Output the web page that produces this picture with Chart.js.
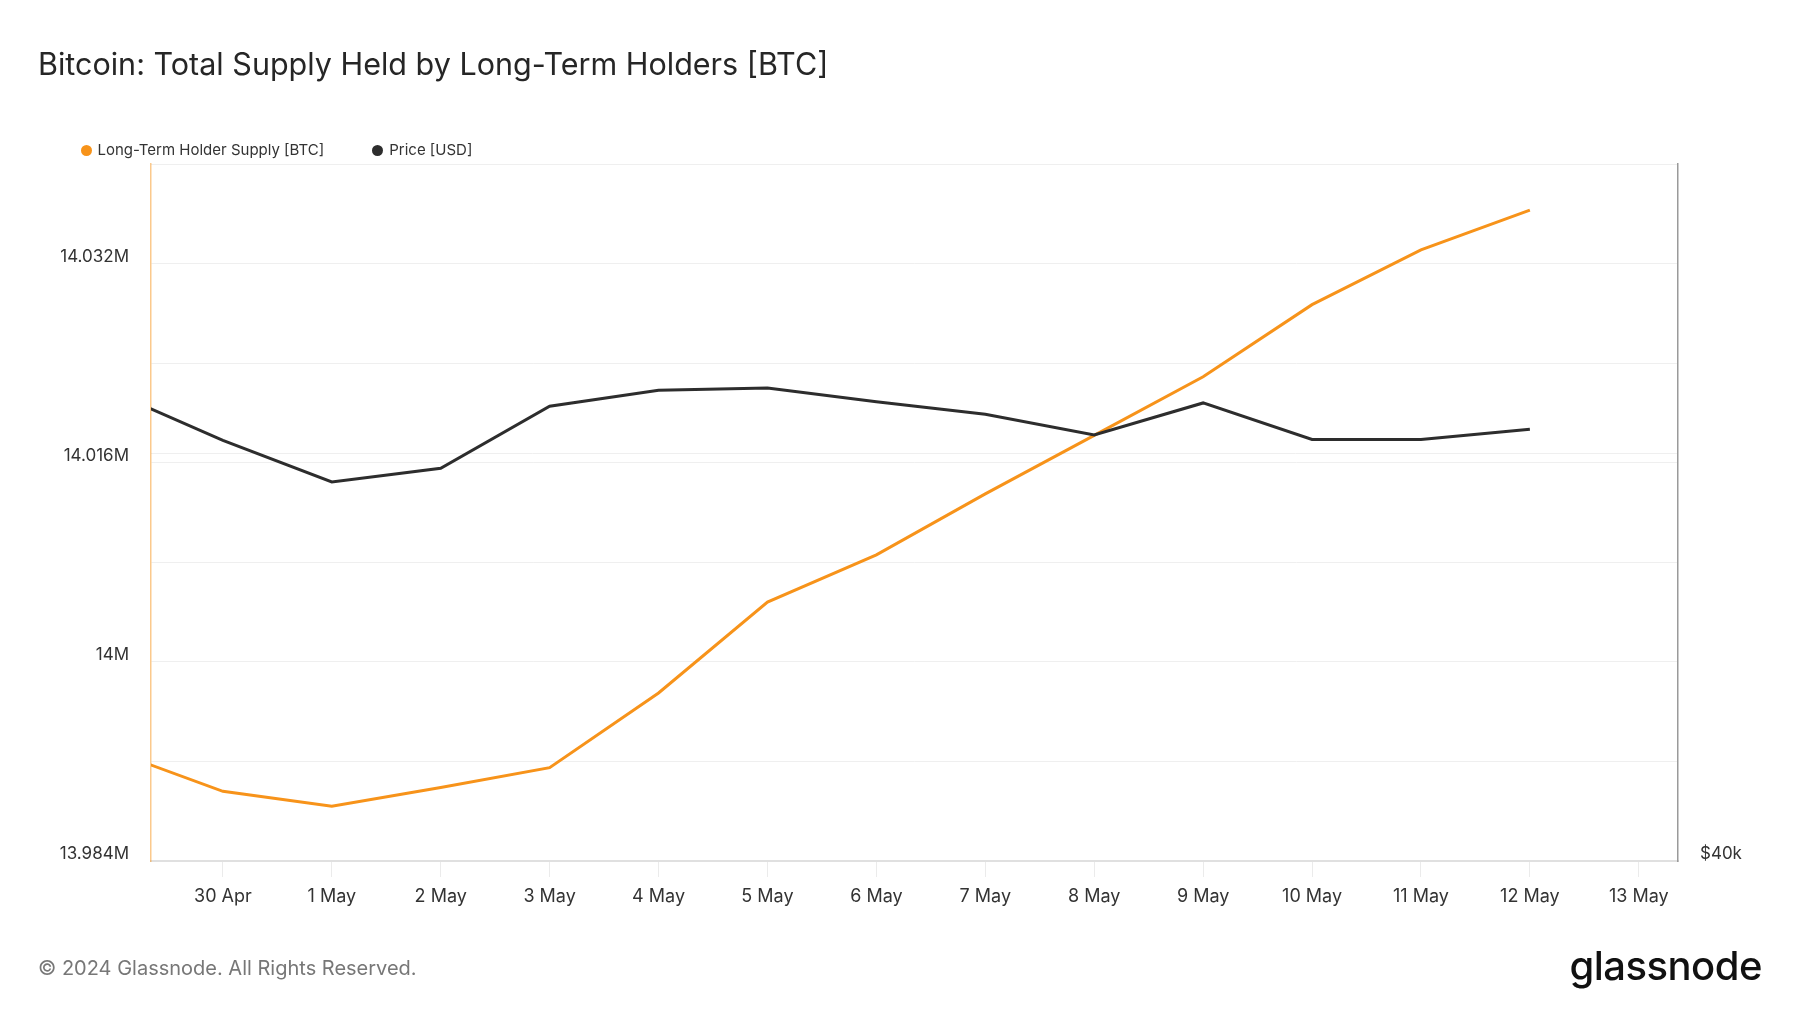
<!DOCTYPE html>
<html>
<head>
<meta charset="utf-8">
<script src="https://cdn.jsdelivr.net/npm/chart.js@4.4.1/dist/chart.umd.min.js"></script>
<style>
    body { margin: 0; background: #fff; font-family: Inter, "Noto Sans", sans-serif; }
    #wrap { position: relative; width: 1800px; height: 1013px; overflow: hidden; }
    #chart { position: absolute; left: 0; top: 0; }
    .title { position: absolute; left: 38px; top: 46px; font-size: 30.5px; line-height: 36px; color: #262626; }
    .legend { position: absolute; left: 80.5px; top: 141px; font-size: 15px; line-height: 18px; color: #333; display: flex; }
    .legend span { display: flex; align-items: center; margin-right: 48px; }
    .legend i { display: inline-block; width: 11px; height: 11px; border-radius: 50%; margin-right: 6px; }
    .footer { position: absolute; left: 38px; top: 956px; font-size: 20px; line-height: 24px; color: #777; }
    .logo { position: absolute; right: 38px; top: 942px; font-size: 40px; line-height: 48px; font-weight: 500; color: #111; letter-spacing: -0.5px; }
</style>
</head>
<body>
<div id="wrap">
    <canvas id="chart" width="1800" height="1013"></canvas>
    <div class="title">Bitcoin: Total Supply Held by Long-Term Holders [BTC]</div>
    <div class="legend">
        <span><i style="background:#f7931a"></i>Long-Term Holder Supply [BTC]</span>
        <span><i style="background:#2d2d2d"></i>Price [USD]</span>
    </div>
    <div class="footer">© 2024 Glassnode. All Rights Reserved.</div>
    <div class="logo">glassnode</div>
</div>
<script>
// daily points, 29 Apr .. 12 May 2024
const days = ['29 Apr', '30 Apr', '1 May', '2 May', '3 May', '4 May', '5 May',
    '6 May', '7 May', '8 May', '9 May', '10 May', '11 May', '12 May'];
const supply = [13992800, 13989600, 13988400, 13989900, 13991500, 13997500, 14004800,
    14008600, 14013500, 14018200, 14022900, 14028700, 14033100, 14036300];
const price = [63730, 60770, 58310, 59110, 62870, 63880, 64030,
    63160, 62370, 61100, 63080, 60830, 60830, 61450];
const tickLabels = ['30 Apr', '1 May', '2 May', '3 May', '4 May', '5 May', '6 May',
    '7 May', '8 May', '9 May', '10 May', '11 May', '12 May', '13 May'];

const supplyTicks = [13984000, 13992000, 14000000, 14008000, 14016000, 14024000, 14032000, 14040000];
const supplyLabels = { 13984000: '13.984M', 14000000: '14M', 14016000: '14.016M', 14032000: '14.032M' };
const priceTicks = [40000, 60000, 80000];
const priceLabels = { 40000: '$40k' };

const font = { family: 'Inter', size: 17 };

new Chart(document.getElementById('chart'), {
    type: 'line',
    data: {
        datasets: [
            {
                label: 'Long-Term Holder Supply [BTC]',
                data: supply.map((v, i) => ({ x: i, y: v })),
                borderColor: '#f7931a',
                borderWidth: 3,
                pointRadius: 0,
                yAxisID: 'y',
                order: 2
            },
            {
                label: 'Price [USD]',
                data: price.map((v, i) => ({ x: i, y: v })),
                borderColor: '#2d2d2d',
                borderWidth: 3,
                pointRadius: 0,
                yAxisID: 'y1',
                order: 1
            }
        ]
    },
    options: {
        responsive: false,
        animation: false,
        layout: { padding: { top: 164, left: 0, right: 0, bottom: 0 } },
        plugins: { legend: { display: false }, tooltip: { enabled: false } },
        scales: {
            x: {
                type: 'linear',
                min: 0.34,
                max: 14.36,
                afterBuildTicks: (s) => { s.ticks = tickLabels.map((_, i) => ({ value: i + 1 })); },
                afterFit: (s) => { s.height = 152; },
                grid: { drawOnChartArea: false, tickLength: 16, color: '#ebebeb' },
                border: { color: '#e0e0e0', width: 2 },
                ticks: {
                    font: { family: 'Inter', size: 18 },
                    color: '#333',
                    padding: 9,
                    maxRotation: 0,
                    autoSkip: false,
                    callback: (v) => tickLabels[v - 1]
                }
            },
            y: {
                position: 'left',
                min: 13984000,
                max: 14040000,
                afterBuildTicks: (s) => { s.ticks = supplyTicks.map(v => ({ value: v })); },
                afterFit: (s) => { s.width = 151; },
                grid: { drawTicks: false, color: '#efefef' },
                border: { color: 'rgba(247,147,26,0.5)', width: 1.5 },
                ticks: {
                    font: font,
                    color: '#333',
                    padding: 22,
                    labelOffset: -7,
                    callback: (v) => supplyLabels[v] || ''
                }
            },
            y1: {
                type: 'logarithmic',
                position: 'right',
                min: 40000,
                max: 80000,
                afterBuildTicks: (s) => { s.ticks = priceTicks.map(v => ({ value: v })); },
                afterFit: (s) => { s.width = 122; },
                grid: { drawTicks: false, color: '#efefef' },
                border: { color: '#9a9a9a', width: 1.5 },
                ticks: {
                    font: font,
                    color: '#333',
                    padding: 22,
                    labelOffset: -7,
                    callback: (v) => priceLabels[v] || ''
                }
            }
        }
    }
});
</script>
</body>
</html>
